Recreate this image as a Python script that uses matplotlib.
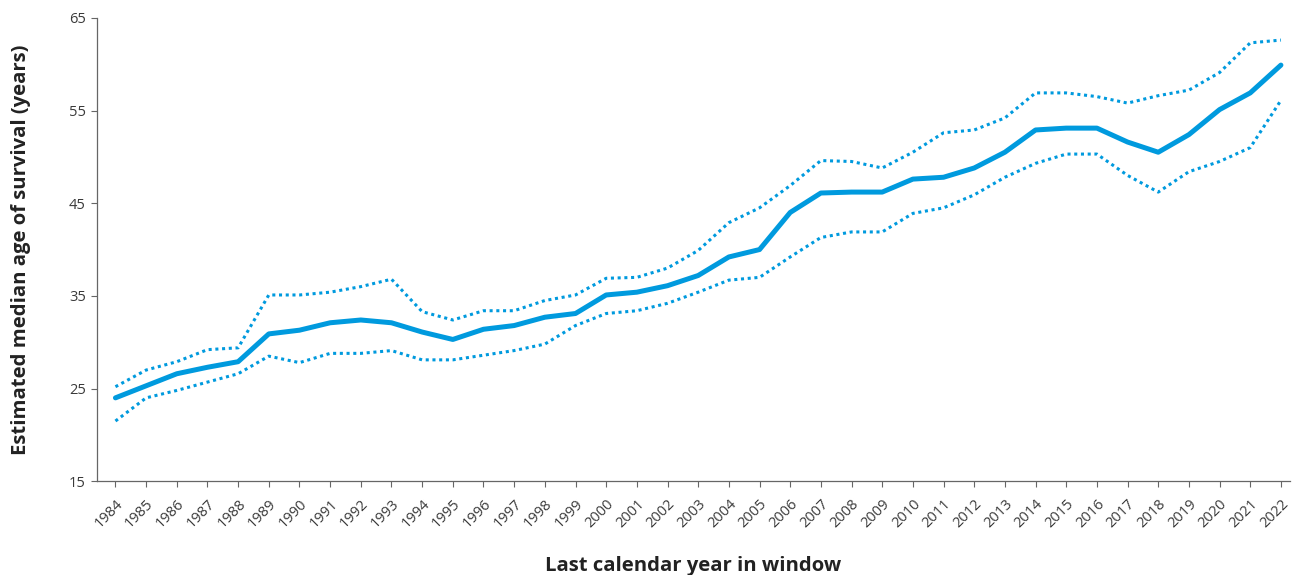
import matplotlib
matplotlib.use("Agg")
import matplotlib.pyplot as plt

years = list(range(1984, 2023))
median = [24.0, 25.3, 26.6, 27.3, 27.9, 30.9, 31.3, 32.1, 32.4, 32.1,
          31.1, 30.3, 31.4, 31.8, 32.7, 33.1, 35.1, 35.4, 36.1, 37.2,
          39.2, 40.0, 44.0, 46.1, 46.2, 46.2, 47.6, 47.8, 48.8, 50.5,
          52.9, 53.1, 53.1, 51.6, 50.5, 52.4, 55.1, 56.9, 59.9]
upper = [25.2, 27.0, 27.9, 29.2, 29.4, 35.1, 35.1, 35.4, 36.0, 36.8,
         33.3, 32.4, 33.4, 33.4, 34.5, 35.1, 36.9, 37.0, 38.0, 39.9,
         42.9, 44.5, 46.9, 49.6, 49.5, 48.8, 50.5, 52.6, 52.9, 54.2,
         56.9, 56.9, 56.5, 55.8, 56.6, 57.2, 59.1, 62.3, 62.6]
lower = [21.5, 24.0, 24.8, 25.7, 26.6, 28.5, 27.8, 28.8, 28.8, 29.1,
         28.1, 28.1, 28.6, 29.1, 29.8, 31.8, 33.1, 33.4, 34.2, 35.4,
         36.7, 37.0, 39.2, 41.3, 41.9, 41.9, 43.9, 44.5, 45.9, 47.8,
         49.3, 50.3, 50.3, 48.0, 46.2, 48.4, 49.5, 51.0, 56.1]
yticks = [15, 25, 35, 45, 55, 65]

plt.rcParams['font.family'] = ['Open Sans', 'DejaVu Sans']
color = '#009ADE'

fig = plt.figure(figsize=(12.94, 5.75), dpi=100)
ax = fig.add_axes([0.075, 0.163, 0.922, 0.806])

ax.plot(years, median, color=color, lw=3.6, solid_capstyle='round', solid_joinstyle='round')
ax.plot(years, upper, color=color, lw=2.2, linestyle=(0, (1, 1.2)))
ax.plot(years, lower, color=color, lw=2.2, linestyle=(0, (1, 1.2)))

ax.set_xlim(1983.4, 2022.3)
ax.set_ylim(15, 65)
ax.set_yticks(yticks)
ax.set_xticks(years)
ax.set_xticklabels([str(y) for y in years], rotation=45, ha='right', rotation_mode='anchor')

for s in ['top', 'right']:
    ax.spines[s].set_visible(False)
for s in ['left', 'bottom']:
    ax.spines[s].set_color('#666666')
    ax.spines[s].set_linewidth(0.9)
ax.tick_params(axis='both', colors='#666666', labelcolor='#3a3a3a', length=4, width=0.8)
ax.tick_params(axis='y', labelsize=10.5, pad=4)
ax.tick_params(axis='x', labelsize=10.5, pad=7)

ax.set_ylabel('Estimated median age of survival (years)', fontsize=14.6, fontweight='bold', color='#222222', labelpad=27)
ax.set_xlabel('Last calendar year in window', fontsize=14.6, fontweight='bold', color='#222222', labelpad=18)

fig.savefig('out.png', dpi=100)
